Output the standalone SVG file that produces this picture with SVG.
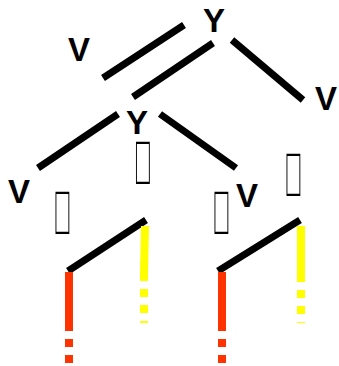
<svg xmlns="http://www.w3.org/2000/svg" width="339" height="366" viewBox="0 0 339 366">
<style>
.lbl{font-family:"Liberation Sans",Arial,sans-serif;font-weight:bold;font-size:33px;text-anchor:middle;fill:#000}
.tofu{font-family:"Liberation Sans",Arial,sans-serif;font-size:33px;text-anchor:middle;fill:#000}
.tg{filter:url(#gray)}
.e{stroke:#000;stroke-width:7;fill:none}
.y{stroke:#FFFF00;stroke-width:8;fill:none}
.r{stroke:#FF3300;stroke-width:8;fill:none}
.d{stroke-dasharray:8 8}
</style>
<defs>
<filter id="gray" x="-50%" y="-50%" width="200%" height="200%"><feColorMatrix type="saturate" values="0"/></filter>
</defs>
<rect width="339" height="366" fill="#fff"/>
<g id="connectors">
<line class="e" x1="103" y1="78" x2="184" y2="25"/>
<line class="e" x1="133" y1="97" x2="213" y2="43"/>
<line class="e" x1="232" y1="40" x2="303" y2="100"/>
<line class="e" x1="38" y1="168" x2="118" y2="114"/>
<line class="e" x1="160" y1="114" x2="236" y2="168"/>
<line class="e" x1="68" y1="271" x2="146" y2="220"/>
<line class="e" x1="218" y1="271" x2="300" y2="220"/>
<line class="y" x1="145" y1="226" x2="144" y2="273"/>
<line class="y d" x1="144" y1="273" x2="144" y2="323"/>
<line class="y" x1="301" y1="226" x2="301" y2="274"/>
<line class="y d" x1="301" y1="274" x2="301" y2="323"/>
<line class="r" x1="69" y1="272" x2="69" y2="323"/>
<line class="r d" x1="69" y1="323" x2="69" y2="363"/>
<line class="r" x1="222" y1="272" x2="222" y2="323"/>
<line class="r d" x1="222" y1="323" x2="222" y2="363"/>
</g>
<g id="n-root"><text class="lbl" x="214" y="32">Y</text></g>
<g id="n-v1"><text class="lbl" x="79" y="61">V</text></g>
<g id="n-v2"><text class="lbl" x="326" y="110">V</text></g>
<g id="n-y2"><text class="lbl" x="137" y="134">Y</text></g>
<g id="n-v3"><text class="lbl" x="19" y="203">V</text></g>
<g id="n-v4"><text class="lbl" x="247" y="207">V</text></g>
<g id="n-t1" class="tg"><text class="tofu" transform="translate(143 184) scale(0.76 1.86)">&#xE000;</text></g>
<g id="n-t2" class="tg"><text class="tofu" transform="translate(62.5 234) scale(0.76 1.86)">&#xE000;</text></g>
<g id="n-t3" class="tg"><text class="tofu" transform="translate(221.5 234) scale(0.76 1.86)">&#xE000;</text></g>
<g id="n-t4" class="tg"><text class="tofu" transform="translate(293.5 196) scale(0.76 1.86)">&#xE000;</text></g>
</svg>
